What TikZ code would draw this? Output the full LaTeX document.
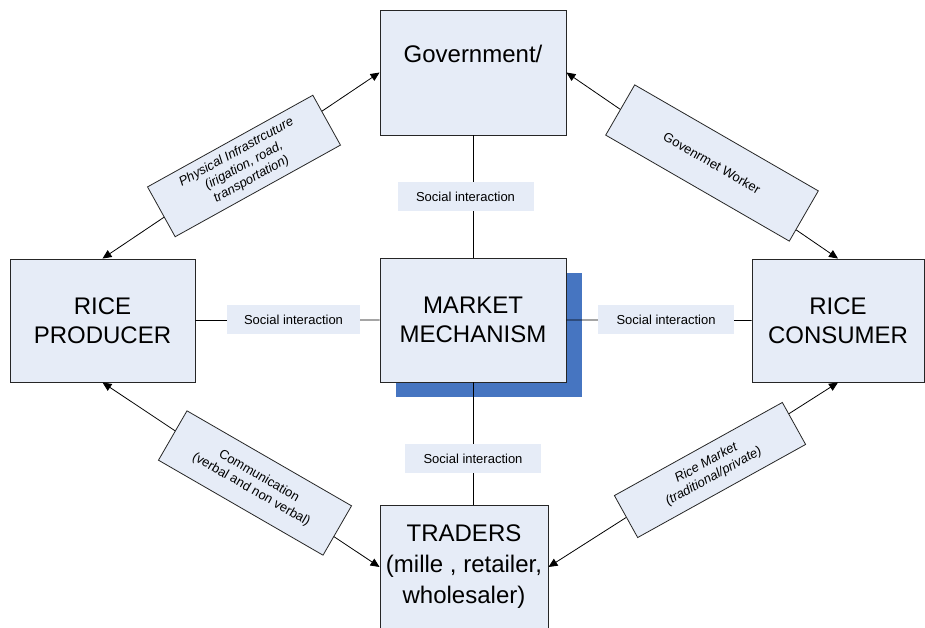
\documentclass[tikz,border=0pt]{standalone}
\usepackage{fontspec}
\setmainfont{Liberation Sans}
\usetikzlibrary{arrows.meta}
\definecolor{boxfill}{RGB}{230,236,247}
\definecolor{shadowblue}{RGB}{70,117,193}
\begin{document}
\begin{tikzpicture}[x=1pt,y=-1pt,
  bigbox/.style={draw=black!85, line width=0.9pt, fill=boxfill, align=center,
    font=\fontsize{24}{29}\selectfont, inner sep=0pt},
  sibox/.style={fill=boxfill, minimum width=136pt, minimum height=29pt,
    font=\fontsize{13}{15}\selectfont, inner sep=0pt},
  tagbox/.style={draw=black!85, line width=0.8pt, fill=boxfill, align=center,
    font=\fontsize{13}{15.5}\selectfont, inner sep=0pt},
  conn/.style={line width=0.8pt},
  arr/.style={conn, {Triangle[length=9pt,width=8pt]}-{Triangle[length=9pt,width=8pt]}}]
\useasboundingbox[fill=white] (0,0) rectangle (925,628);

% shadow of market box
\fill[shadowblue] (396,273) rectangle (582,397);

% main boxes
\node[bigbox, minimum width=186pt, minimum height=125pt] (gov) at (473,72.5) {Government/\\ \strut};
\node[bigbox, minimum width=186pt, minimum height=124pt] (market) at (473,320) {MARKET\\MECHANISM};
\node[bigbox, minimum width=185pt, minimum height=123pt] (producer) at (102.5,320.5) {RICE\\PRODUCER};
\node[bigbox, minimum width=172pt, minimum height=123pt] (consumer) at (838,320.5) {RICE\\CONSUMER};
\node[bigbox, minimum width=168pt, minimum height=124pt, font=\fontsize{24}{31}\selectfont] (traders) at (464,567) {TRADERS\\(mille\ , retailer,\\wholesaler)};

% plain connectors
\draw[conn] (gov.south) -- (market.north);
\draw[conn] (market.south) -- (market.south |- traders.north);
\draw[conn] (producer.east) -- (market.west);
\draw[conn] (market.east) -- (consumer.west);

% arrows
\draw[arr] (producer.north) -- (gov.west);
\draw[arr] (gov.east) -- (consumer.north);
\draw[arr] (producer.south) -- (traders.west);
\draw[arr] (traders.east) -- (consumer.south);

% social interaction labels
\node[sibox] (si1) at (465.5,196.5) {Social interaction};
\node[sibox, minimum width=133pt] (si2) at (293.5,319.5) {Social interaction};
\node[sibox] (si3) at (666,319.5) {Social interaction};
\node[sibox] (si4) at (473,458.5) {Social interaction};

% tilted labels
\node[tagbox, font=\fontsize{13}{15.5}\selectfont\itshape, minimum width=189pt, minimum height=57pt, rotate=29] (phys) at (244,166)
  {Physical Infrastrcuture\\(irigation, road,\\transportation)};
\node[tagbox, minimum width=212pt, minimum height=58pt, rotate=-30] (gw) at (712,163)
  {Govenrmet Worker};
\node[tagbox, minimum width=190pt, minimum height=57pt, rotate=-30] (comm) at (255,483)
  {Communication\\(verbal and non verbal)};
\node[tagbox, font=\fontsize{13}{15.5}\selectfont\itshape, minimum width=192pt, minimum height=48pt, rotate=29] (rm) at (710,470)
  {Rice Market\\(traditional/private)};
\end{tikzpicture}
\end{document}
